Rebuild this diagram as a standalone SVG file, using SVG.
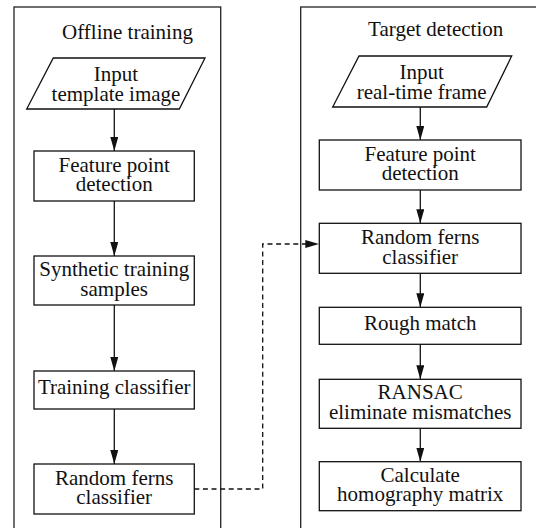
<svg xmlns="http://www.w3.org/2000/svg" width="536" height="528" viewBox="0 0 536 528">
<style>
.c{fill:none;stroke:#222;stroke-width:1.3}
.n{fill:#fff;stroke:#111;stroke-width:1.3}
.t{font-family:"Liberation Serif","Times New Roman",serif;font-size:21px;fill:#111;text-anchor:middle}
.e{fill:none;stroke:#111;stroke-width:1.3}
.d{fill:none;stroke:#111;stroke-width:1.3;stroke-dasharray:5 3.6}
</style>
<defs>
<marker id="ah" markerUnits="userSpaceOnUse" markerWidth="14" markerHeight="8" refX="14" refY="4" orient="auto">
<path d="M0,0 L14,4 L0,8 z" fill="#111"/>
</marker>
</defs>
<rect width="536" height="528" fill="#fff"/>
<g id="container-offline">
<rect class="c" x="14" y="7" width="206.7" height="540"/>
<text class="t" x="127.5" y="39.3">Offline training</text>
</g>
<g id="container-target">
<rect class="c" x="300.7" y="7" width="260" height="540"/>
<text class="t" x="435.7" y="35.7">Target detection</text>
</g>
<g id="connectors">
<line class="e" x1="114.3" y1="109" x2="114.3" y2="151" marker-end="url(#ah)"/>
<line class="e" x1="114.3" y1="201" x2="114.3" y2="256" marker-end="url(#ah)"/>
<line class="e" x1="114.3" y1="305" x2="114.3" y2="371" marker-end="url(#ah)"/>
<line class="e" x1="114.3" y1="409" x2="114.3" y2="464" marker-end="url(#ah)"/>
<line class="e" x1="420.3" y1="107" x2="420.3" y2="140" marker-end="url(#ah)"/>
<line class="e" x1="420.3" y1="190" x2="420.3" y2="223.3" marker-end="url(#ah)"/>
<line class="e" x1="420.3" y1="273.3" x2="420.3" y2="307.3" marker-end="url(#ah)"/>
<line class="e" x1="420.3" y1="344.3" x2="420.3" y2="379.3" marker-end="url(#ah)"/>
<line class="e" x1="420.3" y1="428.3" x2="420.3" y2="461.7" marker-end="url(#ah)"/>
<path class="d" d="M194.3,489 H262.7 V244 H319.3" marker-end="url(#ah)"/>
</g>
<g id="input-template">
<polygon class="n" points="53.3,58 205,58 179.3,109 26.7,109"/>
<text class="t" x="116" y="81">Input</text>
<text class="t" x="116" y="100.7">template image</text>
</g>
<g id="fpd-left">
<rect class="n" x="34" y="151" width="160.3" height="50"/>
<text class="t" x="114.2" y="171.5">Feature point</text>
<text class="t" x="114.2" y="191.2">detection</text>
</g>
<g id="synthetic">
<rect class="n" x="34" y="256" width="160.3" height="49"/>
<text class="t" x="114.2" y="276">Synthetic training</text>
<text class="t" x="114.2" y="295.7">samples</text>
</g>
<g id="training">
<rect class="n" x="34" y="371" width="160.3" height="38"/>
<text class="t" x="114.2" y="394.3">Training classifier</text>
</g>
<g id="ferns-left">
<rect class="n" x="34" y="464" width="160.3" height="50"/>
<text class="t" x="114.2" y="484.5">Random ferns</text>
<text class="t" x="114.2" y="504.2">classifier</text>
</g>
<g id="input-frame">
<polygon class="n" points="359,56 511.7,56 486.7,107 332.7,107"/>
<text class="t" x="421.7" y="79">Input</text>
<text class="t" x="421.7" y="98.7">real-time frame</text>
</g>
<g id="fpd-right">
<rect class="n" x="319.3" y="140" width="201.7" height="50"/>
<text class="t" x="420.2" y="160.5">Feature point</text>
<text class="t" x="420.2" y="180.2">detection</text>
</g>
<g id="ferns-right">
<rect class="n" x="319.3" y="223.3" width="201.7" height="50"/>
<text class="t" x="420.2" y="243.8">Random ferns</text>
<text class="t" x="420.2" y="263.5">classifier</text>
</g>
<g id="rough">
<rect class="n" x="319.3" y="307.3" width="201.7" height="37"/>
<text class="t" x="420.2" y="329.8">Rough match</text>
</g>
<g id="ransac">
<rect class="n" x="319.3" y="379.3" width="201.7" height="49"/>
<text class="t" x="420.2" y="399.3">RANSAC</text>
<text class="t" x="420.2" y="419">eliminate mismatches</text>
</g>
<g id="homography">
<rect class="n" x="319.3" y="461.7" width="201.7" height="49"/>
<text class="t" x="420.2" y="481.7">Calculate</text>
<text class="t" x="420.2" y="501.4">homography matrix</text>
</g>
</svg>
